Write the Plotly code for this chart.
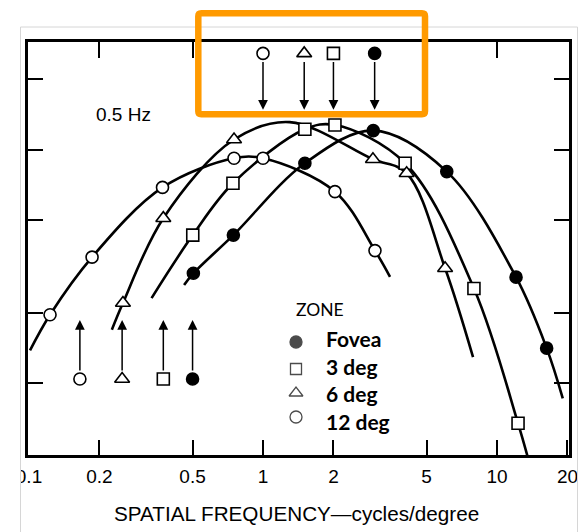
import numpy as np
import plotly.graph_objects as go

W, H = 588, 532

# ---------------- data ----------------
zones = ["Fovea", "3 deg", "6 deg", "12 deg"]

fovea_freq = [0.504, 0.747, 1.51, 2.96, 6.10, 12.06, 16.3]
fovea_sens = [29.5, 43.0, 87.3, 120.4, 80.4, 28.4, 14.1]
fovea_curve_freq = [0.46, 0.504, 0.747, 1.51, 2.96, 6.10, 12.06, 16.3, 19.1]
fovea_curve_sens = [26.3, 29.5, 43.0, 87.3, 120.4, 80.4, 28.4, 14.1, 8.6]

deg3_freq = [0.501, 0.744, 1.51, 2.03, 4.05, 7.97, 12.3]
deg3_sens = [43.0, 71.7, 122.1, 127.3, 87.3, 25.4, 6.72]
deg3_curve_freq = [0.334, 0.501, 0.744, 1.51, 2.03, 4.05, 7.97, 12.3, 13.7]
deg3_curve_sens = [23.1, 43.0, 71.7, 122.1, 127.3, 87.3, 25.4, 6.72, 4.6]

deg6_freq = [0.252, 0.375, 0.752, 2.95, 4.11, 6.00]
deg6_sens = [22.0, 50.8, 110.4, 90.8, 79.1, 31.0]
deg6_curve_freq = [0.226, 0.252, 0.375, 0.752, 1.30, 2.95, 4.11, 6.00, 7.90]
deg6_curve_sens = [16.9, 22.0, 50.8, 110.4, 131.0, 90.8, 79.1, 31.0, 12.9]

deg12_freq = [0.123, 0.186, 0.372, 0.752, 1.00, 2.03, 3.01]
deg12_sens = [19.6, 34.6, 68.8, 91.7, 91.7, 66.0, 36.9]
deg12_curve_freq = [0.101, 0.123, 0.186, 0.372, 0.752, 1.00, 2.03, 3.01, 3.49]
deg12_curve_sens = [13.8, 19.6, 34.6, 68.8, 91.7, 91.7, 66.0, 36.9, 28.5]

# cut-off arrows (order: Fovea, 3 deg, 6 deg, 12 deg)
high_cut_freq = [3.0, 2.0, 1.5, 1.0]
low_cut_freq = [0.5, 0.375, 0.25, 0.165]
high_marker_level, high_tip_level = 258.0, 148.0
low_marker_level, low_tip_level = 10.4, 18.6

x_tick_vals = [0.1, 0.2, 0.5, 1, 2, 5, 10, 20]
x_tick_text = ["0.1", "0.2", "0.5", "1", "2", "5", "10", "20"]
x_top_tick_vals = [0.2, 0.5, 10]
y_tick_vals = [10, 20, 50, 100, 200]

# ---------------- styles ----------------
symbols = ["circle", "square", "triangle-up", "circle"]
fills = ["black", "white", "white", "white"]
msizes = [12, 12, 13, 12]

series = [
    (fovea_freq, fovea_sens, fovea_curve_freq, fovea_curve_sens),
    (deg3_freq, deg3_sens, deg3_curve_freq, deg3_curve_sens),
    (deg6_freq, deg6_sens, deg6_curve_freq, deg6_curve_sens),
    (deg12_freq, deg12_sens, deg12_curve_freq, deg12_curve_sens),
]

fig = go.Figure()

for (fx, fy, cx, cy) in series:
    fig.add_trace(go.Scatter(x=cx, y=cy, mode="lines",
                             line=dict(color="black", width=2.6, shape="spline", smoothing=1.0),
                             hoverinfo="skip", showlegend=False))
for i, (fx, fy, cx, cy) in enumerate(series):
    fig.add_trace(go.Scatter(x=fx, y=fy, mode="markers", name=zones[i],
                             marker=dict(symbol=symbols[i], size=msizes[i], color=fills[i],
                                         line=dict(color="black", width=1.6)),
                             showlegend=False))

for i in range(4):
    fig.add_trace(go.Scatter(x=[high_cut_freq[i], low_cut_freq[i]],
                             y=[high_marker_level, low_marker_level], mode="markers",
                             marker=dict(symbol=symbols[i], size=msizes[i], color=fills[i],
                                         line=dict(color="black", width=1.6)),
                             cliponaxis=False, showlegend=False))
    for f, tip, tail in ((high_cut_freq[i], high_tip_level, high_marker_level),
                         (low_cut_freq[i], low_tip_level, low_marker_level)):
        fig.add_annotation(x=np.log10(f), y=np.log10(tip), ax=np.log10(f), ay=np.log10(tail),
                           xref="x", yref="y", axref="x", ayref="y", text="",
                           showarrow=True, arrowhead=2, arrowsize=1.3, arrowwidth=1.5,
                           arrowcolor="black", startstandoff=7)

# legend symbols on a pixel overlay
leg_y = [342, 369, 393, 417]
fig.add_trace(go.Scatter(x=[296] * 4, y=leg_y, mode="markers", xaxis="x3", yaxis="y3",
                         marker=dict(symbol=symbols, size=[12, 11, 12, 12], color=fills,
                                     line=dict(color="black", width=1.3)),
                         cliponaxis=False, showlegend=False, hoverinfo="skip"))

# dummy trace so xaxis2 is drawn
fig.add_trace(go.Scatter(x=[1], y=[50], xaxis="x2", yaxis="y", mode="markers",
                         marker=dict(opacity=0), showlegend=False, hoverinfo="skip"))

x0, x1, y0, y1 = 28, 569, 42, 455
xr = [(x0 - 263) / 234, (x1 - 263) / 234]
yr = [1 + (383 - y1) / 233.5, 1 + (383 - y0) / 233.5]

fig.update_layout(
    template="none",
    width=W, height=H, margin=dict(l=0, r=0, t=0, b=0, pad=0, autoexpand=False),
    paper_bgcolor="white", plot_bgcolor="rgba(0,0,0,0)",
    showlegend=False,
    font=dict(family="Liberation Sans, Arial, sans-serif", color="black"),
    xaxis=dict(type="log", range=xr, domain=[x0 / W, x1 / W], anchor="y", automargin=False,
               tickvals=x_tick_vals, ticktext=x_tick_text, ticks="inside", ticklen=15,
               tickwidth=2, tickcolor="black", showline=True, linecolor="black", linewidth=3,
               mirror=True, showgrid=False, zeroline=False, ticklabelstandoff=2,
               tickfont=dict(size=19, family="Liberation Sans, Arial")),
    xaxis2=dict(type="log", range=xr, overlaying="x", side="top", anchor="y", automargin=False,
                tickvals=x_top_tick_vals, ticks="inside", ticklen=16, tickwidth=2,
                tickcolor="black", showticklabels=False, showgrid=False, zeroline=False,
                showline=False),
    yaxis=dict(type="log", range=yr, domain=[1 - y1 / H, 1 - y0 / H], anchor="x",
               automargin=False,
               tickvals=y_tick_vals, ticks="inside", ticklen=15, tickwidth=2,
               tickcolor="black", showticklabels=False, showline=True, linecolor="black",
               linewidth=3, mirror="ticks", showgrid=False, zeroline=False),
    xaxis3=dict(domain=[0, 1], range=[0, W], visible=False, anchor="y3", fixedrange=True,
                automargin=False),
    yaxis3=dict(domain=[0, 1], range=[H, 0], visible=False, anchor="x3", fixedrange=True,
                automargin=False),
)

# texts
fig.add_annotation(x=123.5 / W, y=1 - 115 / H, xref="paper", yref="paper", text="0.5 Hz",
                   xanchor="center", yanchor="middle", showarrow=False,
                   font=dict(size=19, family="Liberation Sans, Arial"))
fig.add_annotation(x=297 / W, y=1 - 513 / H, xref="paper", yref="paper",
                   text="SPATIAL FREQUENCY\u2014cycles/degree", showarrow=False,
                   xanchor="center", yanchor="middle",
                   font=dict(size=20.7, family="Liberation Sans, Arial"))
fig.add_annotation(x=294 / W, y=1 - 309 / H, xref="paper", yref="paper", text="ZONE",
                   xanchor="left", yanchor="middle", showarrow=False,
                   font=dict(size=17.5, family="Lato"))
leg_text_y = [338, 366, 393, 421]
for name, ty in zip(zones, leg_text_y):
    fig.add_annotation(x=324 / W, y=1 - ty / H, xref="paper", yref="paper",
                       text="<b>" + name + "</b>", xanchor="left", yanchor="middle",
                       showarrow=False, font=dict(size=21, family="Lato"))

# shapes: crop + border + orange highlight
fig.add_shape(type="rect", xref="paper", yref="paper", x0=0, x1=20.5 / W, y0=0, y1=1,
              fillcolor="white", line=dict(width=0), layer="above")
fig.add_shape(type="rect", xref="paper", yref="paper", x0=20.5 / W, x1=577.5 / W,
              y0=-0.05, y1=1 - 27 / H, line=dict(color="#d6d6d6", width=1), layer="above")
bx0, bx1, by0, by1, r = 198.3, 425, 13.3, 114.3, 3
path = (f"M {bx0 + r},{by0} L {bx1 - r},{by0} Q {bx1},{by0} {bx1},{by0 + r} "
        f"L {bx1},{by1 - r} Q {bx1},{by1} {bx1 - r},{by1} L {bx0 + r},{by1} "
        f"Q {bx0},{by1} {bx0},{by1 - r} L {bx0},{by0 + r} Q {bx0},{by0} {bx0 + r},{by0} Z")
fig.add_shape(type="path", xref="x3", yref="y3", path=path,
              line=dict(color="#FF9A00", width=6.5), layer="above")

fig.write_html("out.html")
